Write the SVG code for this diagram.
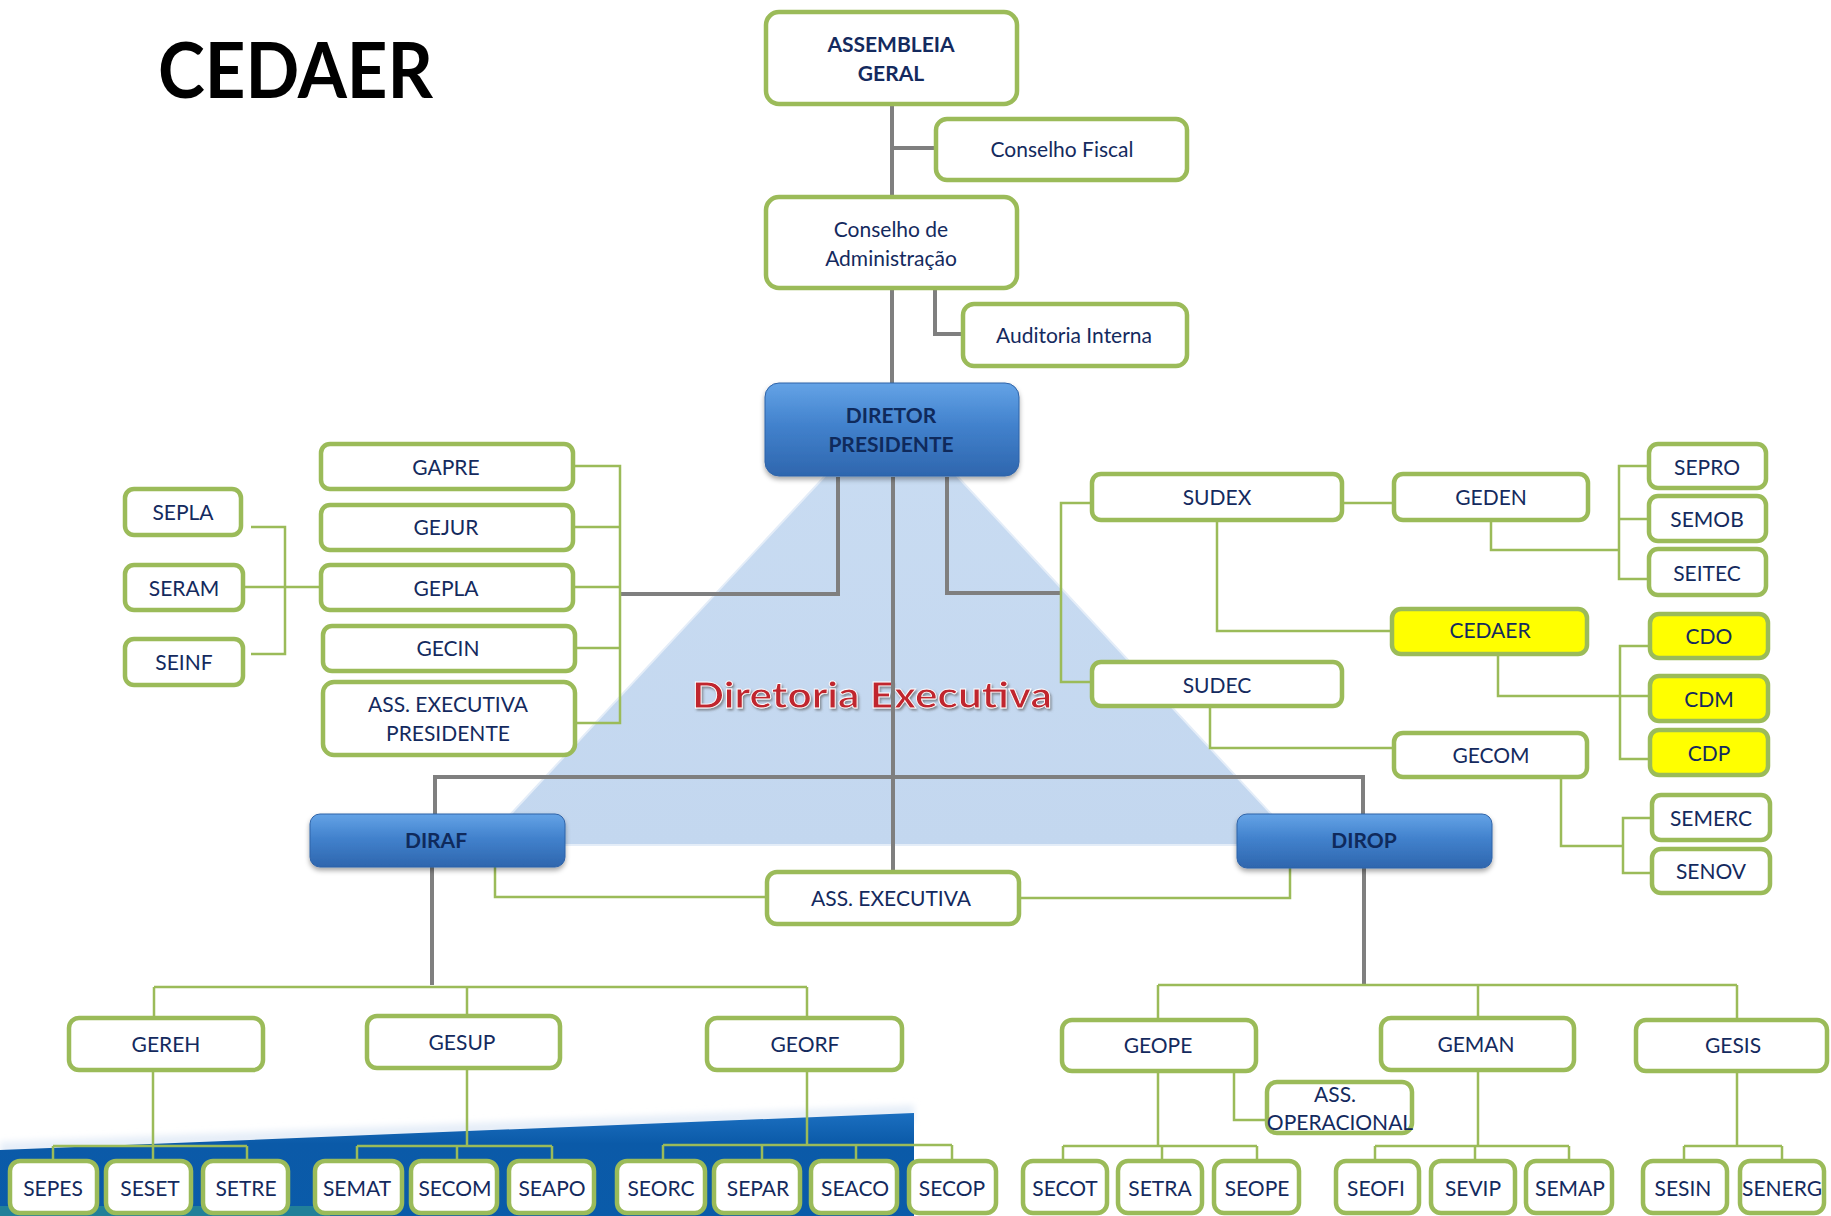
<svg xmlns="http://www.w3.org/2000/svg" width="1831" height="1216" viewBox="0 0 1831 1216">
<defs>
<style>
.box{fill:#ffffff;stroke:#9bbb59;stroke-width:4.5}
.yel{fill:#ffff00;stroke:#9bbb59;stroke-width:4.5}
.blue{fill:url(#bg);stroke:#2f63a8;stroke-width:1}
.t{font-family:Lato,"Open Sans","Liberation Sans",sans-serif;font-size:21px;fill:#142a5e;text-anchor:middle}
.b{font-weight:bold}
.bt{font-family:Lato,"Open Sans","Liberation Sans",sans-serif;font-size:21px;font-weight:bold;fill:#0f2a5c;text-anchor:middle}
.g{fill:none;stroke:#9bbb59;stroke-width:2.5}
.k{fill:none;stroke:#7f7f7f;stroke-width:4}
</style>
<linearGradient id="bg" x1="0" y1="0" x2="0" y2="1">
<stop offset="0" stop-color="#64a3e6"/>
<stop offset="0.45" stop-color="#4282cd"/>
<stop offset="1" stop-color="#2e66ae"/>
</linearGradient>
<linearGradient id="band" x1="0" y1="0" x2="0" y2="1">
<stop offset="0" stop-color="#1b6fc0"/>
<stop offset="0.3" stop-color="#0b5aa8"/>
<stop offset="1" stop-color="#0a5ba9"/>
</linearGradient>
<linearGradient id="tri" x1="0" y1="0" x2="0" y2="1">
<stop offset="0" stop-color="#c9dcf2"/>
<stop offset="1" stop-color="#c3d7ef"/>
</linearGradient>
<filter id="sh" x="-10%" y="-20%" width="120%" height="150%">
<feDropShadow dx="0" dy="3" stdDeviation="2.5" flood-color="#000" flood-opacity="0.35"/>
</filter>
<filter id="blur" x="-5%" y="-50%" width="110%" height="200%">
<feGaussianBlur stdDeviation="3"/>
</filter>
<filter id="ts" x="-5%" y="-30%" width="110%" height="160%">
<feDropShadow dx="1.5" dy="2" stdDeviation="1.2" flood-color="#555" flood-opacity="0.6"/>
</filter>
</defs>
<rect width="1831" height="1216" fill="#ffffff"/>

<g id="background">
<polygon points="0,1142 914,1105 914,1122 0,1158" fill="#e6eef8" filter="url(#blur)"/>
<polygon points="0,1150 914,1113 914,1216 0,1216" fill="url(#band)"/>
<rect x="0" y="1206" width="330" height="10" fill="#3aa58a" opacity="0.5"/>
<line x1="488" y1="847" x2="1296" y2="847" stroke="#9a9a9a" stroke-width="4" filter="url(#blur)"/>
<polygon points="891,405 482,845 1300,845" fill="url(#tri)" stroke="#e4edf8" stroke-width="2"/>
<text x="872" y="708" textLength="360" lengthAdjust="spacingAndGlyphs" font-family="Lato,'Open Sans',sans-serif" font-size="36" font-weight="bold" fill="#c0252e" stroke="#ffffff" stroke-width="0.8" text-anchor="middle" filter="url(#ts)">Diretoria Executiva</text>
</g>

<text id="title" x="158" y="98" textLength="275" lengthAdjust="spacingAndGlyphs" font-family="Lato,'Open Sans',sans-serif" font-size="77" font-weight="bold" fill="#000000">CEDAER</text>

<g id="connectors">
<path class="k" d="M892,106V383M892,148H934M935,290V334H961"/>
<path class="k" d="M838,477V594H620M947,477V593H1061M893,477V870"/>
<path class="k" d="M435,814V777H1363V814M432,867V985M1364,868V986"/>
<path class="g" d="M575,466H620V723H577M575,527H620M575,587H620M577,648H620"/>
<path class="g" d="M251,527H285V654H251M245,587H319"/>
<path class="g" d="M1090,503H1061V682H1090M1344,503H1392"/>
<path class="g" d="M1647,466H1619V579H1647M1619,519H1647M1491,522V550H1619"/>
<path class="g" d="M1217,522V631H1390"/>
<path class="g" d="M1648,646H1620V759H1648M1620,696H1648M1498,656V696H1620"/>
<path class="g" d="M1210,708V748H1392M1561,779V846H1623M1650,818H1623V873H1650"/>
<path class="g" d="M495,867V897H765M1021,898H1290V868"/>
<path class="g" d="M154,987H807M154,987V1016M467,987V1014M807,987V1016"/>
<path class="g" d="M153,1072V1146M53,1146H247M53,1146V1160M153,1146V1160M247,1146V1160"/>
<path class="g" d="M467,1070V1146M357,1146H552M357,1146V1160M457,1146V1160M552,1146V1160"/>
<path class="g" d="M807,1072V1145M663,1145H952M663,1145V1160M762,1145V1160M856,1145V1160M952,1145V1160"/>
<path class="g" d="M1158,985H1737M1158,985V1018M1478,985V1016M1737,985V1018"/>
<path class="g" d="M1158,1073V1146M1063,1146H1257M1063,1146V1160M1162,1146V1160M1257,1146V1160M1234,1073V1120H1265"/>
<path class="g" d="M1478,1072V1146M1375,1146H1569M1375,1146V1160M1475,1146V1160M1569,1146V1160"/>
<path class="g" d="M1737,1073V1146M1684,1146H1782M1684,1146V1160M1782,1146V1160"/>
</g>

<g id="n-assembleia"><rect class="box" x="766" y="12" width="251" height="92" rx="13"/><text class="t b" x="891" y="52">ASSEMBLEIA</text><text class="t b" x="891" y="81">GERAL</text></g>
<g id="n-fiscal"><rect class="box" x="936" y="119" width="251" height="61" rx="11"/><text class="t" x="1062" y="157">Conselho Fiscal</text></g>
<g id="n-conselho"><rect class="box" x="766" y="197" width="251" height="91" rx="13"/><text class="t" x="891" y="237">Conselho de</text><text class="t" x="891" y="266">Administração</text></g>
<g id="n-auditoria"><rect class="box" x="963" y="304" width="224" height="62" rx="11"/><text class="t" x="1074" y="343">Auditoria Interna</text></g>
<g id="n-diretor"><rect class="blue" x="765" y="383" width="254" height="93" rx="14" filter="url(#sh)"/><text class="bt" x="891" y="423">DIRETOR</text><text class="bt" x="891" y="452">PRESIDENTE</text></g>

<g id="n-gapre"><rect class="box" x="321" y="444" width="252" height="45" rx="9"/><text class="t" x="446" y="475">GAPRE</text></g>
<g id="n-gejur"><rect class="box" x="321" y="505" width="252" height="45" rx="9"/><text class="t" x="446" y="535">GEJUR</text></g>
<g id="n-gepla"><rect class="box" x="321" y="565" width="252" height="45" rx="9"/><text class="t" x="446" y="596">GEPLA</text></g>
<g id="n-gecin"><rect class="box" x="323" y="626" width="252" height="45" rx="9"/><text class="t" x="448" y="656">GECIN</text></g>
<g id="n-assexpres"><rect class="box" x="323" y="682" width="252" height="73" rx="11"/><text class="t" x="448" y="712">ASS. EXECUTIVA</text><text class="t" x="448" y="741">PRESIDENTE</text></g>
<g id="n-sepla"><rect class="box" x="125" y="489" width="116" height="46" rx="9"/><text class="t" x="183" y="520">SEPLA</text></g>
<g id="n-seram"><rect class="box" x="125" y="565" width="118" height="45" rx="9"/><text class="t" x="184" y="596">SERAM</text></g>
<g id="n-seinf"><rect class="box" x="125" y="639" width="118" height="46" rx="9"/><text class="t" x="184" y="670">SEINF</text></g>

<g id="n-sudex"><rect class="box" x="1092" y="474" width="250" height="46" rx="9"/><text class="t" x="1217" y="505">SUDEX</text></g>
<g id="n-geden"><rect class="box" x="1394" y="474" width="194" height="46" rx="9"/><text class="t" x="1491" y="505">GEDEN</text></g>
<g id="n-sepro"><rect class="box" x="1649" y="444" width="117" height="44" rx="9"/><text class="t" x="1707" y="475">SEPRO</text></g>
<g id="n-semob"><rect class="box" x="1649" y="496" width="117" height="45" rx="9"/><text class="t" x="1707" y="527">SEMOB</text></g>
<g id="n-seitec"><rect class="box" x="1649" y="549" width="117" height="46" rx="9"/><text class="t" x="1707" y="581">SEITEC</text></g>
<g id="n-cedaer"><rect class="yel" x="1392" y="609" width="195" height="45" rx="9"/><text class="t" x="1490" y="638">CEDAER</text></g>
<g id="n-cdo"><rect class="yel" x="1650" y="614" width="118" height="44" rx="9"/><text class="t" x="1709" y="644">CDO</text></g>
<g id="n-cdm"><rect class="yel" x="1650" y="676" width="118" height="45" rx="9"/><text class="t" x="1709" y="707">CDM</text></g>
<g id="n-cdp"><rect class="yel" x="1650" y="730" width="118" height="45" rx="9"/><text class="t" x="1709" y="761">CDP</text></g>
<g id="n-sudec"><rect class="box" x="1092" y="662" width="250" height="44" rx="9"/><text class="t" x="1217" y="693">SUDEC</text></g>
<g id="n-gecom"><rect class="box" x="1394" y="733" width="193" height="44" rx="9"/><text class="t" x="1491" y="763">GECOM</text></g>
<g id="n-semerc"><rect class="box" x="1652" y="795" width="118" height="45" rx="9"/><text class="t" x="1711" y="826">SEMERC</text></g>
<g id="n-senov"><rect class="box" x="1652" y="849" width="118" height="44" rx="9"/><text class="t" x="1711" y="879">SENOV</text></g>

<g id="n-diraf"><rect class="blue" x="310" y="814" width="255" height="53" rx="10" filter="url(#sh)"/><text class="bt" x="436" y="848">DIRAF</text></g>
<g id="n-dirop"><rect class="blue" x="1237" y="814" width="255" height="54" rx="10" filter="url(#sh)"/><text class="bt" x="1364" y="848">DIROP</text></g>
<g id="n-assexec"><rect class="box" x="767" y="872" width="252" height="52" rx="10"/><text class="t" x="891" y="906">ASS. EXECUTIVA</text></g>

<g id="n-gereh"><rect class="box" x="69" y="1018" width="194" height="52" rx="10"/><text class="t" x="166" y="1052">GEREH</text></g>
<g id="n-gesup"><rect class="box" x="367" y="1016" width="193" height="52" rx="10"/><text class="t" x="462" y="1050">GESUP</text></g>
<g id="n-georf"><rect class="box" x="707" y="1018" width="195" height="52" rx="10"/><text class="t" x="805" y="1052">GEORF</text></g>
<g id="n-geope"><rect class="box" x="1062" y="1020" width="194" height="51" rx="10"/><text class="t" x="1158" y="1053">GEOPE</text></g>
<g id="n-geman"><rect class="box" x="1381" y="1018" width="193" height="52" rx="10"/><text class="t" x="1476" y="1052">GEMAN</text></g>
<g id="n-gesis"><rect class="box" x="1636" y="1020" width="191" height="51" rx="10"/><text class="t" x="1733" y="1053">GESIS</text></g>
<g id="n-assop"><rect class="box" x="1267" y="1082" width="145" height="51" rx="10"/><text class="t" x="1335" y="1102">ASS.</text><text class="t" x="1340" y="1130">OPERACIONAL</text></g>

<g id="n-sepes"><rect class="box" x="10" y="1161" width="87" height="52" rx="10"/><text class="t" x="53" y="1196">SEPES</text></g>
<g id="n-seset"><rect class="box" x="106" y="1161" width="85" height="52" rx="10"/><text class="t" x="150" y="1196">SESET</text></g>
<g id="n-setre"><rect class="box" x="203" y="1161" width="85" height="52" rx="10"/><text class="t" x="246" y="1196">SETRE</text></g>
<g id="n-semat"><rect class="box" x="315" y="1161" width="87" height="52" rx="10"/><text class="t" x="357" y="1196">SEMAT</text></g>
<g id="n-secom"><rect class="box" x="411" y="1161" width="86" height="52" rx="10"/><text class="t" x="455" y="1196">SECOM</text></g>
<g id="n-seapo"><rect class="box" x="509" y="1161" width="85" height="52" rx="10"/><text class="t" x="552" y="1196">SEAPO</text></g>
<g id="n-seorc"><rect class="box" x="617" y="1161" width="88" height="52" rx="10"/><text class="t" x="661" y="1196">SEORC</text></g>
<g id="n-separ"><rect class="box" x="714" y="1161" width="86" height="52" rx="10"/><text class="t" x="758" y="1196">SEPAR</text></g>
<g id="n-seaco"><rect class="box" x="811" y="1161" width="86" height="52" rx="10"/><text class="t" x="855" y="1196">SEACO</text></g>
<g id="n-secop"><rect class="box" x="909" y="1161" width="87" height="52" rx="10"/><text class="t" x="952" y="1196">SECOP</text></g>
<g id="n-secot"><rect class="box" x="1023" y="1161" width="84" height="52" rx="10"/><text class="t" x="1065" y="1196">SECOT</text></g>
<g id="n-setra"><rect class="box" x="1118" y="1161" width="84" height="52" rx="10"/><text class="t" x="1160" y="1196">SETRA</text></g>
<g id="n-seope"><rect class="box" x="1214" y="1161" width="85" height="52" rx="10"/><text class="t" x="1257" y="1196">SEOPE</text></g>
<g id="n-seofi"><rect class="box" x="1336" y="1161" width="83" height="52" rx="10"/><text class="t" x="1376" y="1196">SEOFI</text></g>
<g id="n-sevip"><rect class="box" x="1431" y="1161" width="84" height="52" rx="10"/><text class="t" x="1473" y="1196">SEVIP</text></g>
<g id="n-semap"><rect class="box" x="1526" y="1161" width="86" height="52" rx="10"/><text class="t" x="1570" y="1196">SEMAP</text></g>
<g id="n-sesin"><rect class="box" x="1643" y="1161" width="84" height="52" rx="10"/><text class="t" x="1683" y="1196">SESIN</text></g>
<g id="n-senerg"><rect class="box" x="1740" y="1161" width="84" height="52" rx="10"/><text class="t" x="1782" y="1196">SENERG</text></g>
</svg>
